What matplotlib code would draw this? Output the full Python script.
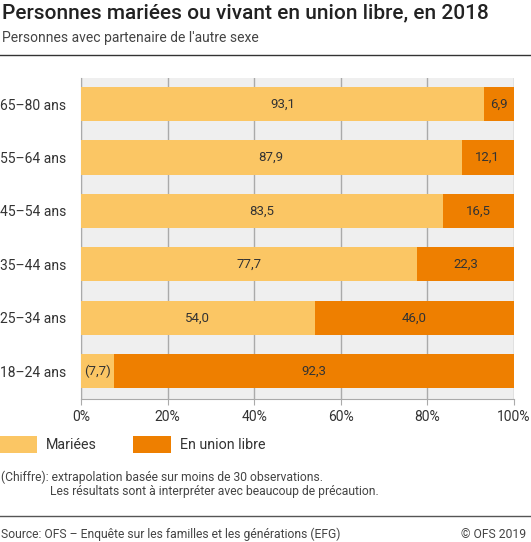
import matplotlib
matplotlib.use("Agg")
import matplotlib.pyplot as plt
from matplotlib.patches import Rectangle

categories = ["65–80 ans", "55–64 ans", "45–54 ans", "35–44 ans", "25–34 ans", "18–24 ans"]
mariees = [93.1, 87.9, 83.5, 77.7, 54.0, 7.7]
union_libre = [6.9, 12.1, 16.5, 22.3, 46.0, 92.3]
mariees_labels = ["93,1", "87,9", "83,5", "77,7", "54,0", "(7,7)"]
union_labels = ["6,9", "12,1", "16,5", "22,3", "46,0", "92,3"]
xticks = [0, 20, 40, 60, 80, 100]
xtick_labels = ["0%", "20%", "40%", "60%", "80%", "100%"]

c_mar = "#fbc664"
c_uni = "#ee7f00"
plt.rcParams['font.family'] = ['Roboto', 'DejaVu Sans']

W, H = 531, 542
fig = plt.figure(figsize=(W/100, H/100), dpi=100)
ax = fig.add_axes([81/W, 1-399/H, (514-81)/W, (399-78)/H])
ax.set_facecolor("#efefef")

n = len(categories)
ys = [n-1-i for i in range(n)]
h = 0.64
ax.barh(ys, mariees, height=h, color=c_mar, zorder=3)
ax.barh(ys, union_libre, left=mariees, height=h, color=c_uni, zorder=3)
for y, m, u, ml, ul in zip(ys, mariees, union_libre, mariees_labels, union_labels):
    ax.text(m/2, y, ml, ha="center", va="center", fontsize=9.5, color="#333333", zorder=4)
    ax.text(m + u/2, y, ul, ha="center", va="center", fontsize=9.5, color="#333333", zorder=4)

ax.set_xlim(0, 100)
ax.set_ylim(-0.52, 5.49)
ax.set_xticks(xticks)
ax.set_xticklabels(xtick_labels, fontsize=10, color="#333333")
ax.set_yticks(ys)
ax.set_yticklabels(categories, fontsize=10, color="#333333", ha="left")
ax.tick_params(axis="y", length=0, pad=81*0.72)
ax.tick_params(axis="x", length=4, color="#aaaaaa", pad=4)
ax.grid(axis="x", color="#aaaaaa", linewidth=1, zorder=1)
for s in ["top", "right"]:
    ax.spines[s].set_visible(False)
ax.spines["left"].set_color("#aaaaaa")
ax.spines["bottom"].set_color("#aaaaaa")

fig.text(2/W, 1-13/H, "Personnes mariées ou vivant en union libre, en 2018",
         fontsize=15, fontweight="medium", color="#222222", va="center")
fig.text(2/W, 1-38/H, "Personnes avec partenaire de l'autre sexe",
         fontsize=10, color="#444444", va="center")
fig.add_artist(plt.Line2D([0, 1], [1-55/H, 1-55/H], color="#333333", lw=1))

# legend
fig.add_artist(Rectangle((0, 1-453/H), 37/W, 17/H, facecolor=c_mar, transform=fig.transFigure))
fig.text(46/W, 1-445/H, "Mariées", fontsize=10.3, color="#333333", va="center")
fig.add_artist(Rectangle((133/W, 1-453/H), 38/W, 17/H, facecolor=c_uni, transform=fig.transFigure))
fig.text(180/W, 1-445/H, "En union libre", fontsize=10.3, color="#333333", va="center")

fig.text(1/W, 1-477/H, "(Chiffre): extrapolation basée sur moins de 30 observations.",
         fontsize=8.7, color="#444444", va="center")
fig.text(50/W, 1-492/H, "Les résultats sont à interpréter avec beaucoup de précaution.",
         fontsize=8.7, color="#444444", va="center")
fig.add_artist(plt.Line2D([0, 1], [1-516/H, 1-516/H], color="#555555", lw=1))
fig.text(1/W, 1-534/H, "Source: OFS – Enquête sur les familles et les générations (EFG)",
         fontsize=8.7, color="#444444", va="center")
fig.text(1-5/W, 1-534/H, "© OFS 2019", fontsize=8.7, color="#444444", va="center", ha="right")

fig.savefig("out.png", dpi=100)
